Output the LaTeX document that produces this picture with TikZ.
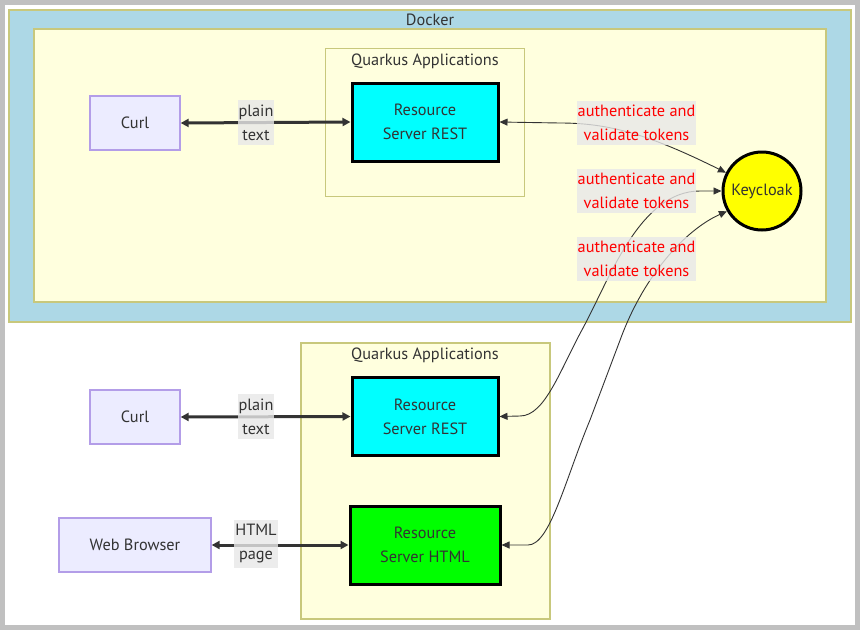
\documentclass[tikz,border=0pt]{standalone}
\usepackage{fontspec}
\setmainfont{PT Sans}
\usetikzlibrary{arrows.meta}
\definecolor{txt}{HTML}{333333}
\definecolor{dockerblue}{HTML}{ADD8E6}
\definecolor{clusterfill}{HTML}{FFFFDE}
\definecolor{clusterline}{HTML}{C8C87C}
\definecolor{nodefill}{HTML}{ECECFF}
\definecolor{nodeline}{HTML}{B39DE8}
\definecolor{lblfill}{HTML}{E8E8E8}
\definecolor{framegray}{HTML}{C0C0C0}
\definecolor{cyanfill}{HTML}{00FFFF}
\definecolor{greenfill}{HTML}{00FF00}
\definecolor{kcfill}{HTML}{FFFF00}
\begin{document}
\begin{tikzpicture}[x=1pt,y=-1pt,
  font=\fontsize{16.3}{24}\selectfont,
  cluster/.style={draw=clusterline,line width=1.6pt,fill=clusterfill},
  plainbox/.style={draw=nodeline,line width=1.3pt,fill=nodefill,text=txt,minimum height=54pt,inner sep=0pt},
  rsbox/.style={draw=black,line width=3pt,text=txt,minimum width=146pt,minimum height=78pt,align=center,inner sep=0pt},
  lbl/.style={fill=lblfill,fill opacity=0.8,text opacity=1,align=center,inner xsep=1pt,inner ysep=4.5pt,text=txt},
  authlbl/.style={lbl,text=red},
  thickarr/.style={draw=txt,line width=3pt,{Triangle[length=8pt,width=8pt]}-{Triangle[length=8pt,width=8pt]}},
  thinarr/.style={draw=txt,line width=0.9pt,{Triangle[length=8pt,width=7pt]}-{Triangle[length=8pt,width=7pt]}},
]
\useasboundingbox (0,0) rectangle (860,630);
\fill[white] (0,0) rectangle (860,630);
\draw[framegray,line width=5pt] (2.5,2.5) rectangle (857.5,627.5);
% Docker
\draw[clusterline,line width=1.6pt,fill=dockerblue] (9,10) rectangle (851,322);
\node[text=txt] (dockerlbl) at (430,20) {Docker};
\draw[cluster] (34,29) rectangle (826,302);
\draw[cluster] (325.5,48.5) rectangle (524.5,196.5);
\node[text=txt] (qa1) at (425,61) {Quarkus Applications};
% lower cluster
\draw[cluster] (301,343) rectangle (550,619);
\node[text=txt] (qa2) at (425,355) {Quarkus Applications};
% nodes
\node[plainbox,minimum width=90pt] (curl1) at (135,123) {Curl};
\node[rsbox,fill=cyanfill] (rs1) at (425,122) {Resource\\Server REST};
\node[circle,draw=black,line width=3pt,fill=kcfill,text=txt,minimum size=78pt,inner sep=0pt] (kc) at (762,191) {Keycloak};
\node[plainbox,minimum width=90pt] (curl2) at (135,417) {Curl};
\node[rsbox,fill=cyanfill] (rs2) at (425,416.5) {Resource\\Server REST};
\node[plainbox,minimum width=152pt] (web) at (135,545) {Web Browser};
\node[rsbox,fill=greenfill,minimum width=150pt] (rs3) at (425,545) {Resource\\Server HTML};
% edges
\draw[thickarr] (curl1.east) -- (rs1.west);
\draw[thickarr] (curl2.east) -- (rs2.west);
\draw[thickarr] (web.east) -- (rs3.west);
\coordinate (e1a) at (560,123);
\coordinate (e2a) at (520,416);
\coordinate (e2b) at (583,328);
\coordinate (e2c) at (700,191);
\coordinate (e3a) at (528,545);
\coordinate (e3b) at (590,420);
\coordinate (e3c) at (622,335);
\draw[thinarr] (rs1.east) -- (e1a) .. controls (610,123) and (650,135) .. (kc.153);
\draw[thinarr] (rs2.east) -- (e2a) .. controls (545,416) and (560,370) .. (e2b) .. controls (610,278) and (640,191) .. (e2c) -- (kc.west);
\draw[thinarr] (rs3.east) -- (e3a) .. controls (550,545) and (565,480) .. (e3b) -- (e3c) .. controls (645,275) and (685,230) .. (kc.210);
% labels
\node[lbl] (pt1) at (256,122.5) {plain\\text};
\node[lbl] (pt2) at (256,416.5) {plain\\text};
\node[lbl] (hp) at (256,544) {HTML\\page};
\node[authlbl] (al1) at (636.5,123) {authenticate and\\validate tokens};
\node[authlbl] (al2) at (636.5,191) {authenticate and\\validate tokens};
\node[authlbl] (al3) at (636.5,259) {authenticate and\\validate tokens};
\end{tikzpicture}
\end{document}
